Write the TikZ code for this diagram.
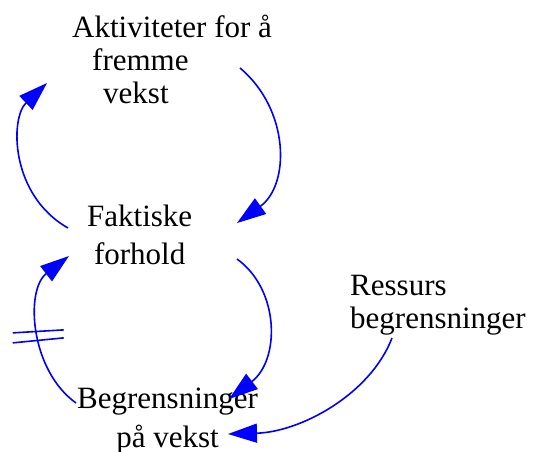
\documentclass[tikz,border=0pt]{standalone}
\usepackage{fontspec}
\setmainfont{Liberation Serif}
\usepackage{tikz}
\usetikzlibrary{calc,arrows.meta}
\definecolor{linkblue}{RGB}{0,0,255}
\tikzset{
  lbl/.style={anchor=base west,inner sep=0pt,font=\rmfamily\fontsize{31}{33}\selectfont},
  link/.style={draw=linkblue,line width=1.6pt},
  linkarrow/.style={link,-{Triangle[length=29pt,width=19pt]}}
}
\begin{document}
\begin{tikzpicture}[x=1pt,y=-1pt]
  \useasboundingbox (0,0) rectangle (533,452);
  \node[lbl,align=left] (0) at (72,103) {Aktiviteter for å\\\hspace*{20pt}fremme\\\hspace*{31pt}vekst};
  \node[lbl,align=center,font=\rmfamily\fontsize{31}{38}\selectfont] (1) at (87,264) {Faktiske\\forhold};
  \node[lbl,align=center,font=\rmfamily\fontsize{31}{39}\selectfont] (2) at (77,447) {Begrensninger\\på vekst};
  \node[lbl,align=left] (3) at (350,328) {Ressurs\\begrensninger};
  \draw[linkarrow] ([shift={(168,-35)}]0.base west) .. controls +(50,42) and +(53,-38) .. ([shift={(150,-41)}]1.base west);
  \draw[linkarrow] ([shift={(-19,-36)}]1.base west) .. controls +(-58,-33) and +(-37,35) .. ([shift={(-25,-20)}]0.base west);
  \draw[linkarrow] ([shift={(150,-5)}]1.base west) .. controls +(43,31) and +(51,-39) .. ([shift={(152,-48)}]2.base west);
  \draw[linkarrow] ([shift={(-1,-44)}]2.base west) .. controls +(-46,-33) and +(-44,34) .. ([shift={(-18,-8)}]1.base west) coordinate[pos=.5] (4);
  \draw[link] ([shift={(-26,3)}]4) -- ([shift={(25,0)}]4);
  \draw[link] ([shift={(-26,13)}]4) -- ([shift={(25,8)}]4);
  \draw[linkarrow] ([shift={(42,10)}]3.base west) .. controls +(-22,57) and +(72,-2) .. ([shift={(151,-13)}]2.base west);
\end{tikzpicture}
\end{document}
